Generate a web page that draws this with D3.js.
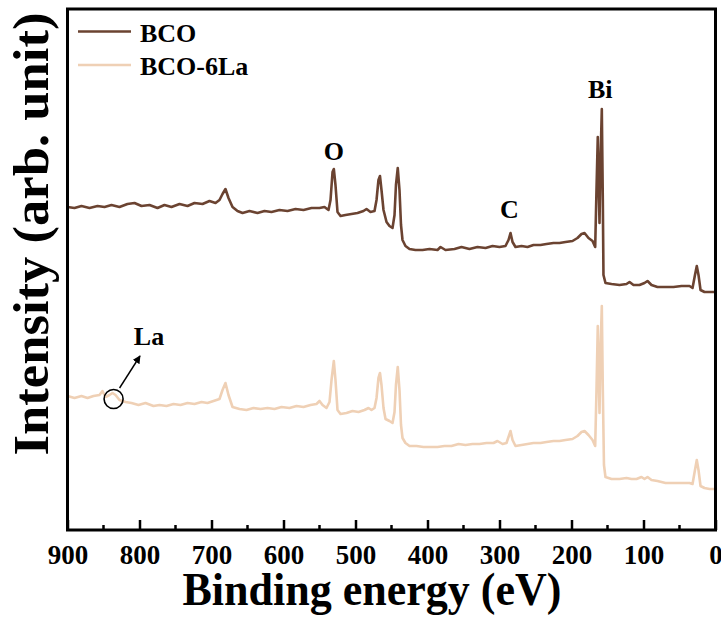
<!DOCTYPE html>
<html>
<head>
<meta charset="utf-8">
<script src="https://cdn.jsdelivr.net/npm/d3@7"></script>
<style>
  html, body { margin: 0; padding: 0; background: #fff; }
  svg { display: block; }
  text { font-family: "Liberation Serif", "Times New Roman", serif; font-weight: bold; }
</style>
</head>
<body>
<svg id="chart" width="721" height="617"></svg>
<script>
// ---- data (binding energy in eV, intensity in arbitrary units) ----
const seriesNames = ["BCO", "BCO-6La"];
const seriesColors = ["#6b4331", "#efd0b5"];

const bcoEnergy = [900, 890.3, 880.6, 869.4, 858.3, 848.6, 838.9, 827.8, 816.7, 806.9, 797.2, 786.1, 775, 765.3, 755.6, 744.4, 733.3, 723.6, 712.5, 702.8, 694.4, 688.9, 684.7, 680.6, 676.4, 670.8, 663.9, 656.9, 647.2, 636.1, 626.4, 616.7, 605.6, 594.4, 583.3, 572.2, 561.1, 550, 543.1, 537.5, 534.7, 531.9, 530.1, 527.8, 525, 520.8, 513.9, 505.6, 497.2, 488.9, 484.7, 479.2, 473.6, 470.8, 468.1, 466, 463.9, 461.1, 456.9, 452.8, 448.6, 445.8, 443.8, 441.3, 438.9, 436.8, 434.7, 430.6, 425, 416.7, 406.9, 397.2, 386.1, 381.9, 375, 362.5, 352.8, 341.7, 330.6, 319.4, 309.7, 300, 291.7, 287.5, 284.7, 281.9, 277.8, 269.4, 261.1, 252.8, 243.1, 234.7, 225, 216.7, 208.3, 198.6, 191.7, 186.1, 181.9, 176.4, 170.8, 167.1, 165.3, 163.5, 162.1, 161.1, 159.7, 157.9, 156.5, 155.6, 152.8, 144.4, 133.3, 123.6, 119.4, 113.9, 105.6, 98.6, 94.4, 88.9, 80.6, 69.4, 58.3, 47.2, 36.1, 31.9, 28.5, 26, 23.6, 20.8, 15.3, 8.3, 1.4];
const bcoIntensity = [323, 322, 324, 322, 324, 323, 325, 323, 326, 327, 324, 325, 322, 325, 323, 326, 324, 327, 326, 329, 327, 330, 336, 341, 332, 323, 319, 317, 319, 317, 319, 318, 320, 319, 321, 320, 322, 322, 323, 320, 330, 358, 361, 345, 318, 314, 315, 316, 317, 319, 321, 318, 319, 330, 350, 354, 340, 320, 308, 304, 302, 315, 345, 362, 340, 305, 290, 284, 281, 280, 280, 281, 280, 283, 280, 281, 283, 281, 283, 282, 284, 283, 284, 290, 297, 288, 283, 284, 283, 285, 285, 286, 287, 287, 288, 289, 292, 296, 297, 292, 289, 283, 340, 393, 340, 307, 370, 421, 330, 255, 247, 246, 245, 246, 248, 245, 245, 247, 249, 245, 243, 243, 243, 244, 244, 242, 255, 264, 255, 240, 238, 238, 238];

const laEnergy = [900, 890.3, 880.6, 872.2, 863.9, 855.6, 851.4, 847.2, 841.7, 837.5, 833.3, 827.8, 819.4, 811.1, 801.4, 791.7, 780.6, 772.2, 762.5, 752.8, 743.1, 733.3, 723.6, 713.9, 705.6, 697.2, 688.9, 684.7, 680.6, 676.4, 670.8, 661.1, 651.4, 641.7, 631.9, 622.2, 612.5, 602.8, 591.7, 581.9, 572.2, 562.5, 554.2, 550, 545.8, 540.3, 536.1, 533.3, 530.1, 527.8, 525, 520.8, 512.5, 504.2, 495.8, 487.5, 481.9, 477.8, 473.6, 470.8, 468.1, 466, 463.9, 461.1, 458.3, 452.8, 448.6, 445.8, 443.8, 441.3, 438.9, 436.8, 434.7, 430.6, 425, 415.3, 405.6, 395.8, 386.1, 376.4, 366.7, 356.9, 347.2, 337.5, 327.8, 318.1, 308.3, 302.8, 295.8, 290.3, 287.5, 284.7, 281.9, 277.8, 269.4, 261.1, 252.8, 243.1, 234.7, 225, 216.7, 208.3, 198.6, 191.7, 186.1, 181.9, 176.4, 170.8, 167.1, 165.3, 163.5, 162.1, 161.1, 159.7, 157.9, 156.5, 154.9, 152.8, 144.4, 133.3, 123.6, 116.7, 109.7, 102.8, 98.6, 94.4, 88.9, 80.6, 69.4, 58.3, 47.2, 36.1, 31.9, 28.5, 26, 23.6, 20.8, 15.3, 8.3, 1.4];
const laIntensity = [134, 132, 134, 132, 134, 135, 139, 133, 135, 137, 135, 130, 128, 127, 125, 127, 124, 125, 124, 126, 125, 127, 126, 128, 127, 129, 131, 140, 147, 135, 123, 121, 120, 122, 121, 122, 121, 123, 122, 124, 123, 125, 126, 129, 125, 122, 128, 150, 169, 150, 120, 116, 117, 119, 118, 120, 122, 120, 122, 132, 152, 157, 145, 122, 111, 109, 107, 118, 145, 163, 140, 105, 92, 87, 84, 84, 83, 83, 83, 84, 84, 86, 85, 86, 86, 87, 87, 89, 86, 87, 93, 99, 90, 84, 85, 86, 87, 87, 88, 89, 89, 90, 91, 94, 98, 99, 95, 90, 84, 140, 204, 150, 117, 180, 224, 140, 65, 53, 51, 51, 52, 51, 51, 53, 51, 53, 50, 49, 47, 47, 47, 47, 46, 60, 70, 60, 44, 42, 41, 41];

const majorTicks = [900, 800, 700, 600, 500, 400, 300, 200, 100, 0];
const minorTicks = [850, 750, 650, 550, 450, 350, 250, 150, 50];

const peakLabels = ["O", "C", "Bi", "La"];
const peakEnergies = [530, 285, 160, 836];

const xTitle = "Binding energy (eV)";
const yTitle = "Intensity (arb. unit)";

// ---- layout ----
const L = 67.5, R = 715.5, T = 9, B = 530;
const svg = d3.select("#chart");

const x = d3.scaleLinear().domain([900, 0]).range([L, R]);
const y = d3.scaleLinear().domain([0, 521]).range([B, T]);

// curves
const series = [
  bcoEnergy.map((e, i) => [e, bcoIntensity[i]]),
  laEnergy.map((e, i) => [e, laIntensity[i]])
];
const line = d3.line().x(d => x(d[0])).y(d => y(d[1]));
svg.append("clipPath").attr("id", "clip").append("rect")
  .attr("x", L).attr("y", T).attr("width", R - L).attr("height", B - T);
series.forEach((s, i) => {
  svg.append("path").datum(s)
    .attr("clip-path", "url(#clip)")
    .attr("d", line)
    .attr("fill", "none")
    .attr("stroke", seriesColors[i])
    .attr("stroke-width", 2.6)
    .attr("stroke-linejoin", "round");
});

// axis (major ticks inward)
const axisG = svg.append("g").attr("transform", `translate(0,${B})`)
  .call(d3.axisBottom(x).tickValues(majorTicks).tickSizeInner(-10).tickSizeOuter(0).tickFormat(d3.format("d")));
axisG.select(".domain").remove();
axisG.selectAll(".tick line").attr("stroke", "#000").attr("stroke-width", 2.5);
axisG.selectAll(".tick text")
  .attr("y", 34).attr("dy", 0)
  .attr("font-size", 27).attr("fill", "#000")
  .attr("font-family", "Liberation Serif, Times New Roman, serif")
  .attr("font-weight", "bold");

// minor ticks
svg.append("g").selectAll("line").data(minorTicks).join("line")
  .attr("x1", d => x(d)).attr("x2", d => x(d))
  .attr("y1", B).attr("y2", B - 5)
  .attr("stroke", "#000").attr("stroke-width", 2.5);

// frame
svg.append("rect").attr("x", L).attr("y", T).attr("width", R - L).attr("height", B - T)
  .attr("fill", "none").attr("stroke", "#000").attr("stroke-width", 3);

// axis titles
svg.append("text").attr("x", 372).attr("y", 605).attr("text-anchor", "middle")
  .attr("font-size", 46).attr("textLength", 379).attr("lengthAdjust", "spacingAndGlyphs")
  .text(xTitle);
svg.append("text").attr("transform", "translate(48,234) rotate(-90)").attr("text-anchor", "middle")
  .attr("font-size", 51).attr("textLength", 443).attr("lengthAdjust", "spacingAndGlyphs")
  .text(yTitle);

// legend
const legY = [31.5, 65];
seriesNames.forEach((n, i) => {
  svg.append("line").attr("x1", 78).attr("x2", 131).attr("y1", legY[i]).attr("y2", legY[i])
    .attr("stroke", seriesColors[i]).attr("stroke-width", 2.6);
  svg.append("text").attr("x", 140).attr("y", legY[i] + 10).attr("font-size", 26).text(n);
});

// peak labels
svg.append("text").attr("x", x(peakEnergies[0])).attr("y", 160).attr("text-anchor", "middle").attr("font-size", 26).text(peakLabels[0]);
svg.append("text").attr("x", x(peakEnergies[1]) - 1).attr("y", 218).attr("text-anchor", "middle").attr("font-size", 26).text(peakLabels[1]);
svg.append("text").attr("x", x(peakEnergies[2])).attr("y", 98).attr("text-anchor", "middle").attr("font-size", 26).text(peakLabels[2]);
svg.append("text").attr("x", 149).attr("y", 345).attr("text-anchor", "middle").attr("font-size", 26).text(peakLabels[3]);

// La marker: circle + arrow
svg.append("defs").append("marker").attr("id", "arrow")
  .attr("viewBox", "0 0 10 10").attr("refX", 9).attr("refY", 5)
  .attr("markerWidth", 8).attr("markerHeight", 8).attr("orient", "auto")
  .attr("markerUnits", "userSpaceOnUse")
  .append("path").attr("d", "M0,0 L10,5 L0,10 z").attr("fill", "#000");
const cx = x(peakEnergies[3]), cy = y(131);
svg.append("circle").attr("cx", cx).attr("cy", cy).attr("r", 9.5)
  .attr("fill", "none").attr("stroke", "#000").attr("stroke-width", 1.6);
svg.append("line").attr("x1", cx + 6).attr("y1", cy - 11).attr("x2", 140).attr("y2", 356)
  .attr("stroke", "#000").attr("stroke-width", 1.4).attr("marker-end", "url(#arrow)");
</script>
</body>
</html>
